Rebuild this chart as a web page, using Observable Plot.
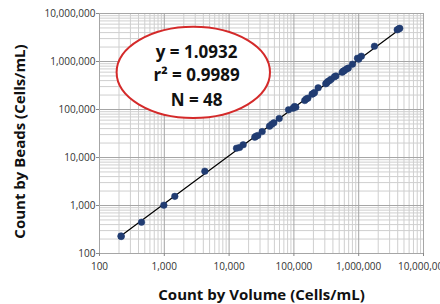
<!DOCTYPE html>
<html>
<head>
<meta charset="utf-8">
<script src="https://cdn.jsdelivr.net/npm/d3@7"></script>
<script src="https://cdn.jsdelivr.net/npm/@observablehq/plot@0.6"></script>
<style>
  html, body { margin: 0; padding: 0; background: #fff; }
  #chart svg { display: block; }
</style>
</head>
<body>
<div id="chart"></div>
<script>
// Count by Volume (x) vs Count by Beads (y), cells/mL
const volume = [216, 215, 445, 984, 1453, 4220, 13000, 14500, 16500, 24900, 26000, 27700, 32400, 42000, 45500, 49000, 59300, 82600, 97000, 102000, 107000, 147000, 155000, 164000, 191000, 200000, 208000, 237000, 310000, 320000, 334000, 355000, 376000, 423000, 445000, 556000, 580000, 603000, 650000, 689000, 802000, 957000, 1000000, 1100000, 1750000, 3930000, 4170000, 4300000];
const beads  = [226, 232, 449, 1015, 1550, 5180, 15600, 16200, 18400, 26500, 27800, 28700, 34700, 44900, 49000, 52800, 65000, 98300, 106000, 115000, 112000, 154000, 166000, 172000, 209000, 216000, 226000, 283000, 343000, 356000, 383000, 400000, 428000, 481000, 500000, 598000, 630000, 651000, 700000, 727000, 878000, 1170000, 1120000, 1290000, 2080000, 4570000, 4790000, 4900000];
const slope = 1.0932;
const trendX = [210, 4300000];
const majorTicks = [100, 1000, 10000, 100000, 1000000, 10000000];
const minorTicks = majorTicks.slice(0, -1).flatMap(d => [2,3,4,5,6,7,8,9].map(k => k * d));
const annLines = ["y = 1.0932", "r\u00B2 = 0.9989", "N = 48"];
const annY = [1560000, 511000, 154000];
const annX = 3150;
const ellipseBox = {x1: 187, x2: 43500, y1: 64900, y2: 5190000};
const xTitle = "Count by Volume (Cells/mL)";
const yTitle = "Count by Beads (Cells/mL)";

const pts = volume.map((v, i) => ({x: v, y: beads[i]}));
const trend = trendX.map(x => ({x, y: slope * x}));
const ann = annLines.map((t, i) => ({t, x: annX, y: annY[i]}));
const fmt = d3.format(",");

function ellipseMark(index, scales) {
  const ns = "http://www.w3.org/2000/svg";
  const px1 = scales.x(ellipseBox.x1), px2 = scales.x(ellipseBox.x2);
  const py1 = scales.y(ellipseBox.y1), py2 = scales.y(ellipseBox.y2);
  const e = document.createElementNS(ns, "ellipse");
  e.setAttribute("cx", (px1 + px2) / 2);
  e.setAttribute("cy", (py1 + py2) / 2);
  e.setAttribute("rx", Math.abs(px2 - px1) / 2);
  e.setAttribute("ry", Math.abs(py2 - py1) / 2);
  e.setAttribute("fill", "#fff");
  e.setAttribute("stroke", "#d42a2a");
  e.setAttribute("stroke-width", 2);
  return e;
}

const chart = Plot.plot({
  width: 440,
  height: 304,
  marginLeft: 99,
  marginRight: 17,
  marginTop: 13,
  marginBottom: 51,
  style: {fontFamily: "'Open Sans', sans-serif", fontSize: "10px", color: "#222", background: "#fff"},
  x: {type: "log", domain: [100, 10000000], axis: null},
  y: {type: "log", domain: [100, 10000000], axis: null},
  marks: [
    Plot.gridX({ticks: minorTicks, stroke: "#cfcfcf", strokeOpacity: 1}),
    Plot.gridY({ticks: minorTicks, stroke: "#cfcfcf", strokeOpacity: 1}),
    Plot.gridX({ticks: majorTicks, stroke: "#a6a6a6", strokeOpacity: 1}),
    Plot.gridY({ticks: majorTicks, stroke: "#a6a6a6", strokeOpacity: 1}),
    Plot.axisX({ticks: majorTicks, tickFormat: fmt, tickSize: 3, tickPadding: 6, stroke: "#888", label: null, fill: "#333"}),
    Plot.axisY({ticks: majorTicks, tickFormat: fmt, tickSize: 3, tickPadding: 1, stroke: "#888", label: null, fill: "#333"}),
    Plot.line(trend, {x: "x", y: "y", stroke: "#000", strokeWidth: 1.2}),
    Plot.dot(pts, {x: "x", y: "y", r: 3.3, fill: "#213c72", stroke: "#213c72", strokeWidth: 0.5}),
    ellipseMark,
    Plot.text(ann, {x: "x", y: "y", text: "t", fontSize: 17, fontWeight: "bold", fill: "#111", textAnchor: "middle", lineAnchor: "middle"}),
    Plot.text([xTitle], {frameAnchor: "bottom", dy: 42, fontSize: 15, fontWeight: "bold", fill: "#111", textAnchor: "middle", lineAnchor: "middle"}),
    Plot.text([yTitle], {frameAnchor: "left", dx: -79, dy: 8, rotate: -90, fontSize: 15, fontWeight: "bold", fill: "#111", textAnchor: "middle", lineAnchor: "middle"})
  ]
});
document.getElementById("chart").appendChild(chart);
</script>
</body>
</html>
